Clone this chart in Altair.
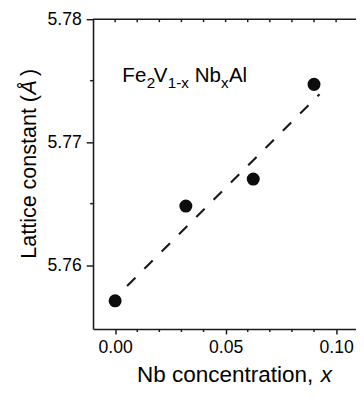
import altair as alt
import pandas as pd

# Data
nb_x = [0.0, 0.032, 0.0625, 0.09]
lattice = [5.7571, 5.7648, 5.7670, 5.7747]
fit_x = [0.0054, 0.0925]
fit_y = [5.7583, 5.7739]
x_major = [0.0, 0.05, 0.10]
x_minor = [0.01, 0.02, 0.03, 0.04, 0.06, 0.07, 0.08, 0.09]
x_top = [0.0, 0.01, 0.02, 0.03, 0.04, 0.05, 0.06, 0.07, 0.08, 0.09, 0.10]
y_major = [5.76, 5.77, 5.78]
y_minor = [5.765, 5.775]

# formula label pieces: Fe2V1-xNbxAl
f_text = ["Fe", "2", "V", "1-x", "Nb", "x", "Al"]
f_px = [30, 55, 62, 76.5, 104, 131, 139]
f_py = [64.3, 70.5, 64.3, 70.5, 64.3, 70.5, 64.3]
f_size = [21, 15.5, 21, 15.5, 21, 15.5, 21]

W, H = 269, 317
FONT = "Liberation Sans"
INK = "#1a1a1a"

xs = alt.Scale(domain=[-0.01, 0.109], nice=False, zero=False)
ys = alt.Scale(domain=[5.7548, 5.78], nice=False, zero=False)

df = pd.DataFrame({"x": nb_x, "y": lattice})
fit = pd.DataFrame({"x": fit_x, "y": fit_y})

points = alt.Chart(df).mark_circle(size=177, color="#0d0d0d", opacity=1).encode(
    x=alt.X("x:Q", scale=xs, title=None, axis=alt.Axis(
        values=x_major, format=".2f", title=None, tickSize=5, labelFontSize=18)),
    y=alt.Y("y:Q", scale=ys, title=None, axis=alt.Axis(
        values=y_major, format=".2f", title=None, tickSize=7, labelFontSize=18)),
)

line = alt.Chart(fit).mark_line(strokeDash=[12, 13], strokeWidth=2.2, color=INK).encode(
    x=alt.X("x:Q", scale=xs, title=None),
    y=alt.Y("y:Q", scale=ys, title=None),
)

top_rule = alt.Chart(pd.DataFrame({"a": [0]})).mark_rule(color=INK, strokeWidth=1.6).encode(
    x=alt.value(0), x2=alt.value(W), y=alt.value(0)
)

ymin = alt.Chart(pd.DataFrame({"v": y_minor})).mark_rule(color=INK, strokeWidth=1.5).encode(
    y=alt.Y("v:Q", scale=ys, title=None), x=alt.value(-3), x2=alt.value(0)
)
xmin = alt.Chart(pd.DataFrame({"v": x_minor})).mark_rule(color=INK, strokeWidth=1.5).encode(
    x=alt.X("v:Q", scale=xs, title=None), y=alt.value(H), y2=alt.value(H + 3)
)
xtop = alt.Chart(pd.DataFrame({"v": x_top})).mark_rule(color=INK, strokeWidth=1.5).encode(
    x=alt.X("v:Q", scale=xs, title=None), y=alt.value(0), y2=alt.value(3)
)


def label(t, px, py, size, italic=False, angle=0):
    kw = dict(align="left", baseline="alphabetic", font=FONT, fontSize=size, color="black")
    if italic:
        kw["fontStyle"] = "italic"
    if angle:
        kw["angle"] = angle
    return alt.Chart(pd.DataFrame({"t": [t]})).mark_text(**kw).encode(
        text="t:N", x=alt.value(px), y=alt.value(py)
    )


formula = [label(t, px, py, s) for t, px, py, s in zip(f_text, f_px, f_py, f_size)]

titles = [
    label("Nb concentration,", 45, 371, 23),
    label("x", 233, 371, 23, italic=True),
    label("Lattice constant (", -58, 245, 22, angle=270),
    label("Å", -58, 77, 22, italic=True, angle=270),
    label(")", -58, 58, 22, angle=270),
]

chart = alt.layer(
    line, points, top_rule, ymin, xmin, xtop, *formula, *titles
).properties(
    width=W, height=H, autosize="none",
    padding={"left": 87, "top": 7, "right": 0, "bottom": 64},
).configure_view(stroke=None).configure_axis(
    grid=False, tickWidth=1.5, tickColor=INK, domainColor=INK, domainWidth=1.6,
    labelFontSize=18, labelFont=FONT, labelColor="black", labelPadding=5,
)

chart.save("out.html", embed_options={"renderer": "svg", "actions": False})
